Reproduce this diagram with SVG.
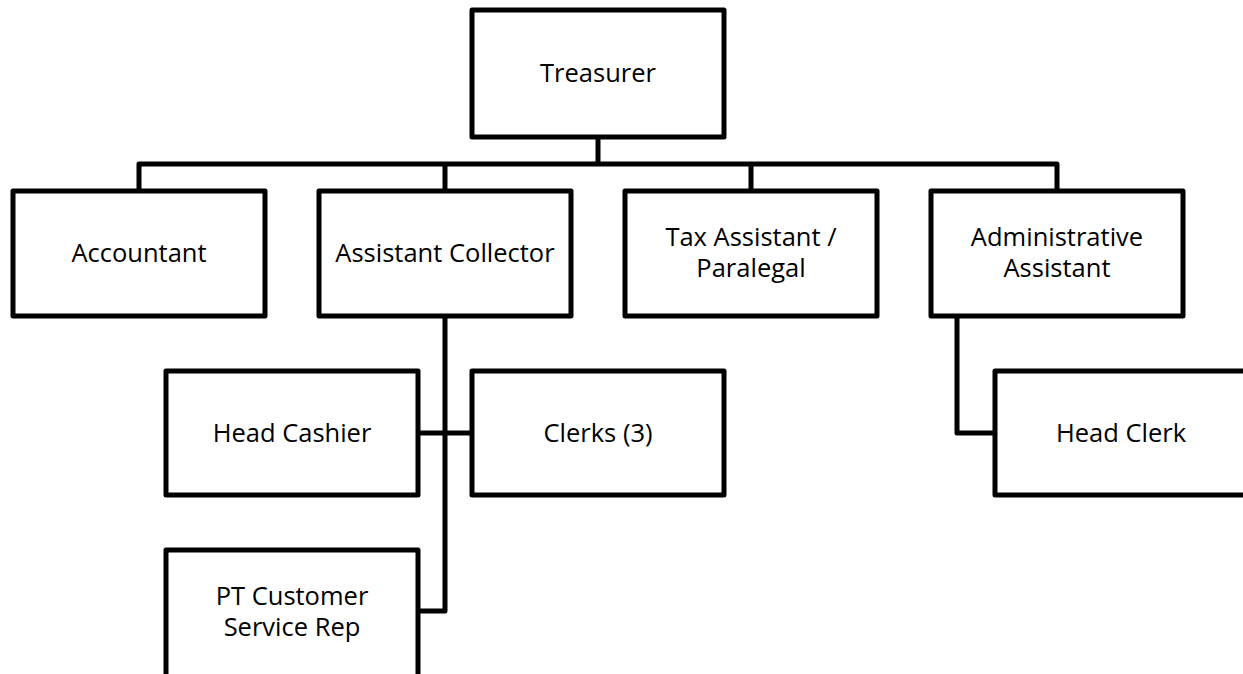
<svg xmlns="http://www.w3.org/2000/svg" width="1243" height="674" viewBox="0 0 1243 674">
  <style>
    .box { fill: #ffffff; stroke: #000000; stroke-width: 5; stroke-linejoin: round; }
    .link { fill: none; stroke: #000000; stroke-width: 5; stroke-linejoin: round; stroke-linecap: butt; }
    .label { font-family: "Open Sans", "Noto Sans", sans-serif; font-size: 25.5px; fill: #000000; text-anchor: middle; }
  </style>
  <rect width="1243" height="674" fill="#ffffff"/>

  <!-- reporting lines -->
  <g id="connectors">
    <path class="link" d="M598,137 V164"/>
    <path class="link" d="M139,191 V164 H1057 V191"/>
    <path class="link" d="M445,164 V191"/>
    <path class="link" d="M751,164 V191"/>
    <path class="link" d="M445,316 V611 H418"/>
    <path class="link" d="M418,433 H472"/>
    <path class="link" d="M957,316 V433 H995"/>
  </g>

  <g id="treasurer">
    <rect class="box" x="472" y="10" width="252" height="127"/>
    <text class="label" x="598" y="82">Treasurer</text>
  </g>

  <g id="accountant">
    <rect class="box" x="13" y="191" width="252" height="125"/>
    <text class="label" x="139" y="262">Accountant</text>
  </g>

  <g id="assistant-collector">
    <rect class="box" x="319" y="191" width="252" height="125"/>
    <text class="label" x="445" y="262">Assistant Collector</text>
  </g>

  <g id="tax-assistant">
    <rect class="box" x="625" y="191" width="252" height="125"/>
    <text class="label" x="751" y="246">Tax Assistant /</text>
    <text class="label" x="751" y="277">Paralegal</text>
  </g>

  <g id="administrative-assistant">
    <rect class="box" x="931" y="191" width="252" height="125"/>
    <text class="label" x="1057" y="246">Administrative</text>
    <text class="label" x="1057" y="277">Assistant</text>
  </g>

  <g id="head-cashier">
    <rect class="box" x="166" y="371" width="252" height="124"/>
    <text class="label" x="292" y="442">Head Cashier</text>
  </g>

  <g id="clerks">
    <rect class="box" x="472" y="371" width="252" height="124"/>
    <text class="label" x="598" y="442">Clerks (3)</text>
  </g>

  <g id="pt-customer-service-rep">
    <rect class="box" x="166" y="550" width="252" height="127"/>
    <text class="label" x="292" y="605">PT Customer</text>
    <text class="label" x="292" y="636">Service Rep</text>
  </g>

  <g id="head-clerk">
    <rect class="box" x="995" y="371" width="256" height="124"/>
    <text class="label" x="1121" y="442">Head Clerk</text>
  </g>
</svg>
